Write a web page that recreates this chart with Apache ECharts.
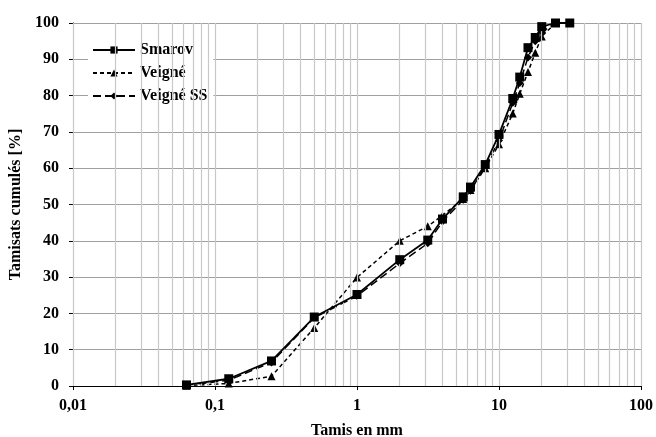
<!DOCTYPE html>
<html><head><meta charset="utf-8">
<script src="https://cdn.jsdelivr.net/npm/echarts@6/dist/echarts.min.js"></script>
<style>html,body{margin:0;padding:0;background:#fff}#c{width:656px;height:437px}</style>
</head><body><div id="c"></div>
<script>
const sieves = [0.063, 0.125, 0.25, 0.5, 1, 2, 3.15, 4, 5.6, 6.3, 8, 10, 12.5, 14, 16, 18, 20, 25, 31.5];
const smarov = [0.3, 2.0, 6.9, 19.0, 25.2, 34.8, 40.2, 46.0, 52.1, 54.8, 61.0, 69.3, 79.2, 85.1, 93.2, 96.0, 99.0, 100, 100];
const veigne = [0.1, 0.7, 2.7, 16.0, 29.9, 40.0, 44.0, 47.0, 51.5, 54.0, 60.0, 66.6, 75.1, 80.5, 86.5, 91.8, 96.3, 100, 100];
const veigneSS = [0.2, 1.6, 6.5, 18.8, 24.8, 33.8, 39.3, 45.3, 51.3, 53.8, 60.5, 67.6, 78.0, 83.5, 90.5, 95.0, 97.5, 100, 100];
const xTicks = ['0,01', '0,1', '1', '10', '100'];
const yTicks = [0, 10, 20, 30, 40, 50, 60, 70, 80, 90, 100];
const minorGrid = [];
[0.01, 0.1, 1, 10].forEach(d => { for (let k = 1; k <= 9; k++) minorGrid.push(+(d * k).toPrecision(3)); });
minorGrid.push(100);

const font = 'Liberation Serif';
const pair = arr => sieves.map((s, i) => [s, arr[i]]);
const chart = echarts.init(document.getElementById('c'));
chart.setOption({
  animation: false,
  backgroundColor: '#fff',
  grid: { left: 73, right: 15, top: 23, bottom: 51, containLabel: false, outerBoundsMode: 'none' },
  legend: {
    orient: 'vertical', left: 88, top: 38,
    itemWidth: 42, itemHeight: 9, itemGap: 7,
    backgroundColor: '#fff', padding: [4, 6, 4, 4],
    textStyle: { fontFamily: font, fontWeight: 'bold', fontSize: 16, color: '#000' },
    data: ['Smarov', 'Veigné', 'Veigné SS']
  },
  xAxis: {
    type: 'log', logBase: 10, min: 0.01, max: 100,
    name: 'Tamis en mm', nameLocation: 'middle', nameGap: 37,
    nameTextStyle: { fontFamily: font, fontWeight: 'bold', fontSize: 16, color: '#000' },
    axisLine: { show: true, onZero: false, lineStyle: { color: '#000', width: 1 } },
    axisTick: { show: true, inside: false, length: 4, lineStyle: { color: '#000' } },
    axisLabel: {
      margin: 12, fontFamily: font, fontWeight: 'bold', fontSize: 16, color: '#000',
      formatter: v => { const i = Math.round(Math.log10(v)) + 2; return xTicks[i] !== undefined ? xTicks[i] : ''; }
    },
    splitLine: { show: false }
  },
  yAxis: {
    type: 'value', min: 0, max: 100, interval: 10,
    name: 'Tamisats cumulés [%]', nameLocation: 'middle', nameGap: 47, nameRotate: 90,
    nameTextStyle: { fontFamily: font, fontWeight: 'bold', fontSize: 16, color: '#000' },
    axisLine: { show: true, lineStyle: { color: '#000', width: 1 } },
    axisTick: { show: true, inside: false, length: 4, lineStyle: { color: '#000' } },
    axisLabel: { margin: 14, fontFamily: font, fontWeight: 'bold', fontSize: 16, color: '#000',
      formatter: v => yTicks.includes(v) ? String(v) : '' },
    splitLine: { show: true, lineStyle: { color: '#a0a0a0', width: 1.2 } }
  },
  series: [
    {
      name: 'grid', type: 'line', data: [], silent: true, z: 1,
      markLine: {
        silent: true, symbol: ['none', 'none'], animation: false,
        label: { show: false },
        lineStyle: { color: '#c8c8c8', width: 1.2, type: 'solid' },
        data: minorGrid.map(v => ({ xAxis: v }))
      }
    },
    {
      name: 'Smarov', type: 'line', data: pair(smarov), z: 5,
      symbol: 'rect', symbolSize: 9,
      lineStyle: { color: '#000', width: 1.8, type: 'solid' },
      itemStyle: { color: '#000' }
    },
    {
      name: 'Veigné', type: 'line', data: pair(veigne), z: 4,
      symbol: 'triangle', symbolSize: 8,
      lineStyle: { color: '#000', width: 1.5, type: [4, 3] },
      itemStyle: { color: '#000' }
    },
    {
      name: 'Veigné SS', type: 'line', data: pair(veigneSS), z: 4,
      symbol: 'diamond', symbolSize: 8,
      lineStyle: { color: '#000', width: 1.5, type: [8, 4] },
      itemStyle: { color: '#000' }
    }
  ]
});
</script></body></html>
